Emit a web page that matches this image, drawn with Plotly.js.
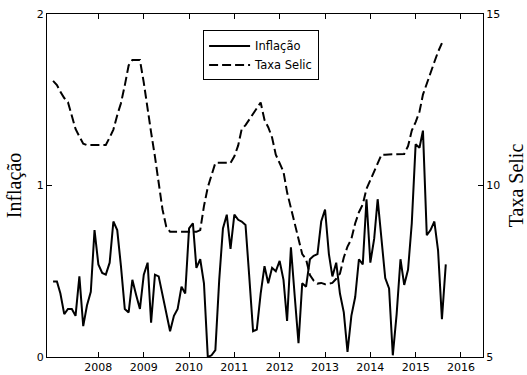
<!DOCTYPE html>
<html>
<head>
<meta charset="utf-8">
<script src="https://cdn.plot.ly/plotly-3.0.1.min.js"></script>
<style>html,body{margin:0;padding:0;background:#fff;}#chart{width:527px;height:375px;}</style>
</head>
<body>
<div id="chart"></div>
<script>
// Monthly series starting January 2007
var startYear = 2007;
// Inflação (IPCA, % a.m.), Jan 2007 - Sep 2015
var inflacao = [
  0.44, 0.44, 0.37, 0.25, 0.28, 0.28, 0.24, 0.47, 0.18, 0.30, 0.38, 0.74,
  0.54, 0.49, 0.48, 0.55, 0.79, 0.74, 0.53, 0.28, 0.26, 0.45, 0.36, 0.28,
  0.48, 0.55, 0.20, 0.48, 0.47, 0.36, 0.24, 0.15, 0.24, 0.28, 0.41, 0.37,
  0.75, 0.78, 0.52, 0.57, 0.43, 0.00, 0.01, 0.04, 0.45, 0.75, 0.83, 0.63,
  0.83, 0.80, 0.79, 0.77, 0.47, 0.15, 0.16, 0.37, 0.53, 0.43, 0.52, 0.50,
  0.56, 0.45, 0.21, 0.64, 0.36, 0.08, 0.43, 0.41, 0.57, 0.59, 0.60, 0.79,
  0.86, 0.60, 0.47, 0.55, 0.37, 0.26, 0.03, 0.24, 0.35, 0.57, 0.54, 0.92,
  0.55, 0.69, 0.92, 0.67, 0.46, 0.40, 0.01, 0.25, 0.57, 0.42, 0.51, 0.78,
  1.24, 1.22, 1.32, 0.71, 0.74, 0.79, 0.62, 0.22, 0.54
];
// Taxa Selic (% a.a.), Jan 2007 - Aug 2015
var selic = [
  13.05, 12.93, 12.73, 12.55, 12.43, 12.00, 11.65, 11.43, 11.22, 11.18, 11.18, 11.18,
  11.18, 11.18, 11.18, 11.40, 11.63, 12.05, 12.40, 12.92, 13.50, 13.66, 13.66, 13.66,
  13.00, 12.20, 11.55, 10.84, 10.00, 9.30, 8.80, 8.65, 8.65, 8.65, 8.65, 8.65,
  8.65, 8.65, 8.65, 8.70, 9.40, 9.95, 10.30, 10.66, 10.66, 10.66, 10.66, 10.66,
  10.85, 11.17, 11.64, 11.76, 11.92, 12.10, 12.25, 12.42, 11.91, 11.70, 11.40, 10.90,
  10.65, 10.40, 9.80, 9.35, 8.87, 8.39, 8.00, 7.85, 7.39, 7.23, 7.14, 7.16,
  7.12, 7.14, 7.16, 7.28, 7.43, 7.90, 8.22, 8.44, 8.90, 9.22, 9.45, 9.90,
  10.15, 10.43, 10.65, 10.90, 10.90, 10.90, 10.90, 10.90, 10.90, 10.92, 11.15, 11.60,
  11.85, 12.15, 12.65, 12.95, 13.30, 13.60, 13.90, 14.15
];
var yearTicks = ['2008', '2009', '2010', '2011', '2012', '2013', '2014', '2015', '2016'];
var seriesNames = ['Inflação', 'Taxa Selic'];
var leftTicks = [0, 1, 2];
var rightTicks = [5, 10, 15];

function monthDates(n) {
  var out = [];
  for (var i = 0; i < n; i++) {
    var y = startYear + Math.floor(i / 12);
    var m = (i % 12) + 1;
    out.push(y + '-' + (m < 10 ? '0' + m : m) + '-01');
  }
  return out;
}

var tickFont = {family: '"DejaVu Sans", sans-serif', size: 11, color: '#000'};
var titleFont = {family: '"Times New Roman", "Liberation Serif", serif', size: 20, color: '#000'};

var traces = [
  {x: monthDates(inflacao.length), y: inflacao, name: seriesNames[0], type: 'scatter', mode: 'lines',
   line: {color: '#000', width: 2}, yaxis: 'y'},
  {x: monthDates(selic.length), y: selic, name: seriesNames[1], type: 'scatter', mode: 'lines',
   line: {color: '#000', width: 2, dash: '9px,4px'}, yaxis: 'y2'}
];

var layout = {
  width: 527, height: 375,
  margin: {l: 47, r: 44, t: 14, b: 18, pad: 0},
  paper_bgcolor: '#fff', plot_bgcolor: '#fff',
  showlegend: true,
  legend: {x: 0.358, y: 0.952, xanchor: 'left', yanchor: 'top', bordercolor: '#000', borderwidth: 1,
           bgcolor: '#fff', font: {family: '"DejaVu Sans", sans-serif', size: 11.5, color: '#000'},
           itemwidth: 41, tracegroupgap: 0},
  xaxis: {type: 'date', range: ['2006-11-13', '2016-06-27'],
          tickmode: 'array', tickvals: yearTicks.map(function (y) { return y + '-01-01'; }), ticktext: yearTicks,
          ticks: 'inside', ticklen: 5, tickcolor: '#000', showline: true, linecolor: '#000', linewidth: 1,
          mirror: 'ticks', showgrid: false, zeroline: false, tickfont: tickFont, fixedrange: true},
  yaxis: {range: [0, 2], tickmode: 'array', tickvals: leftTicks, ticktext: leftTicks.map(String),
          ticks: 'inside', ticklen: 5, tickcolor: '#000', showline: true, linecolor: '#000', linewidth: 1,
          showgrid: false, zeroline: false, tickfont: tickFont,
          title: {text: 'Inflação', font: titleFont, standoff: 9}},
  yaxis2: {range: [5, 15], overlaying: 'y', side: 'right', tickmode: 'array', tickvals: rightTicks,
           ticktext: rightTicks.map(String),
           ticks: 'inside', ticklen: 5, tickcolor: '#000', showline: true, linecolor: '#000', linewidth: 1,
           showgrid: false, zeroline: false, tickfont: tickFont,
           title: {text: 'Taxa Selic', font: titleFont, standoff: 15}}
};

Plotly.newPlot('chart', traces, layout, {staticPlot: true, displayModeBar: false});
</script>
</body>
</html>
